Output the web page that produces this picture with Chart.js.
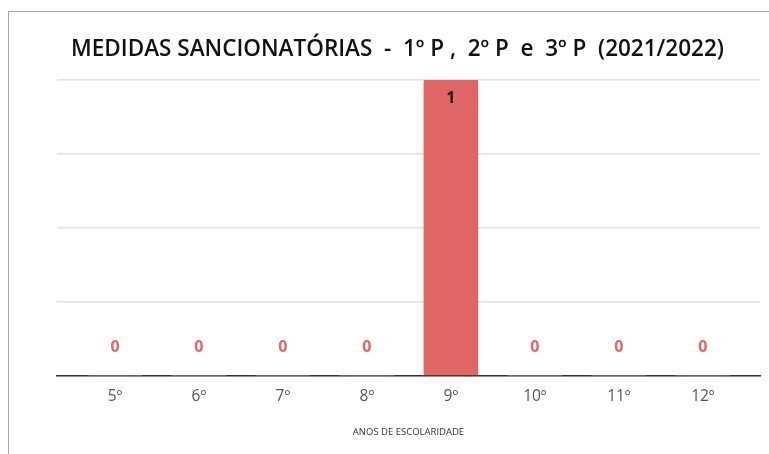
<!DOCTYPE html>
<html>
<head>
<meta charset="utf-8">
<script src="https://cdn.jsdelivr.net/npm/chart.js@4/dist/chart.umd.min.js"></script>
<style>
  html, body { margin: 0; padding: 0; background: #ffffff; }
  #wrap { position: relative; width: 769px; height: 454px; overflow: hidden; }
  #frame { position: absolute; left: 8px; top: 11px; width: 900px; height: 600px;
           border-left: 1px solid #a6a6a6; border-top: 1px solid #a6a6a6; pointer-events: none; }
  canvas { position: absolute; left: 0; top: 0; }
</style>
</head>
<body>
<div id="wrap">
  <canvas id="c" width="769" height="454"></canvas>
  <div id="frame"></div>
</div>
<script>
const categories = ['5º', '6º', '7º', '8º', '9º', '10º', '11º', '12º'];
const values = [0, 0, 0, 0, 1, 0, 0, 0];
const chartTitle = 'MEDIDAS SANCIONATÓRIAS  -  1º P ,  2º P  e  3º P  (2021/2022)';
const xAxisTitle = 'ANOS DE ESCOLARIDADE';

const barColor = '#e06666';

const labelPlugin = {
  id: 'valueLabels',
  afterDatasetsDraw(chart) {
    const ctx = chart.ctx;
    const meta = chart.getDatasetMeta(0);
    const yScale = chart.scales.y;
    ctx.save();
    ctx.textAlign = 'center';
    ctx.textBaseline = 'middle';
    ctx.font = 'bold 16px "Open Sans"';
    meta.data.forEach((bar, i) => {
      const v = values[i];
      if (v > 0) {
        ctx.fillStyle = '#1a1a1a';
        ctx.fillText(String(v), bar.x, bar.y + 18);
      } else {
        ctx.fillStyle = barColor;
        ctx.fillText(String(v), bar.x, yScale.getPixelForValue(0) - 28);
      }
    });
    ctx.restore();
  }
};

new Chart(document.getElementById('c'), {
  type: 'bar',
  data: {
    datasets: [{
      data: values.map((v, i) => ({ x: i, y: v })),
      backgroundColor: barColor,
      borderRadius: 2,
      borderSkipped: 'bottom',
      barThickness: 54
    }]
  },
  options: {
    responsive: false,
    animation: false,
    events: [],
    layout: { padding: { left: 35, right: 9, top: 20, bottom: 9.3 } },
    plugins: {
      legend: { display: false },
      tooltip: { enabled: false },
      title: {
        display: true,
        text: chartTitle,
        color: '#111111',
        font: { family: '"Open Sans"', size: 22.5, weight: '600', lineHeight: 1.2 },
        padding: { top: 16, bottom: 17 }
      }
    },
    scales: {
      x: {
        type: 'linear',
        offset: false,
        min: -0.69,
        max: 7.68,
        afterBuildTicks(scale) {
          scale.ticks = categories.map((_, i) => ({ value: i }));
        },
        grid: { display: false, drawTicks: false, offset: false },
        border: { display: true, color: '#333333', width: 1.5 },
        ticks: {
          padding: 12,
          color: '#555555',
          font: { family: '"Open Sans"', size: 15.5, lineHeight: 1.2 },
          callback: (v) => categories[v],
          autoSkip: false,
          maxRotation: 0
        },
        title: {
          display: true,
          text: xAxisTitle,
          color: '#333333',
          font: { family: '"Open Sans"', size: 9.5, lineHeight: 1.2 },
          padding: { top: 8, bottom: 7 }
        }
      },
      y: {
        min: 0,
        max: 1,
        afterFit(scale) { scale.width = 22; },
        ticks: { display: false, stepSize: 0.25 },
        grid: { color: '#e0e0e0', lineWidth: 1.5, drawTicks: false },
        border: { display: false }
      }
    }
  },
  plugins: [labelPlugin]
});
</script>
</body>
</html>
